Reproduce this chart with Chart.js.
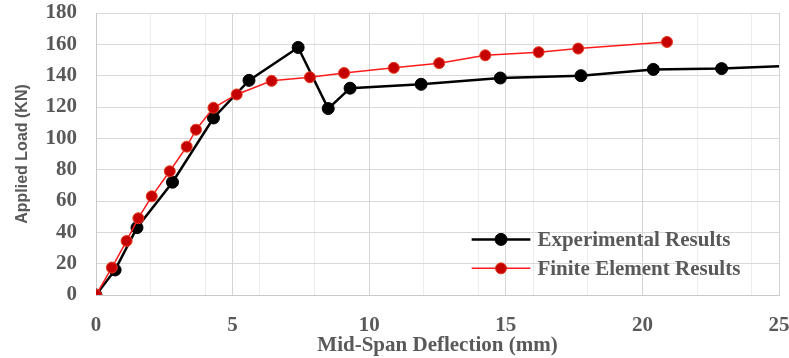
<!DOCTYPE html>
<html>
<head>
<meta charset="utf-8">
<script src="https://cdn.jsdelivr.net/npm/chart.js@4/dist/chart.umd.min.js"></script>
<style>
  html, body { margin: 0; padding: 0; background: #ffffff; }
  #wrap { position: relative; width: 789px; height: 358px; }
</style>
</head>
<body>
<div id="wrap"><canvas id="chart" width="789" height="358"></canvas></div>
<script>
// Load–deflection curves: mid-span deflection (mm) vs applied load (kN)
const expDeflection = [0, 0.7, 1.5, 2.8, 4.3, 5.6, 7.4, 8.5, 9.3, 11.9, 14.8, 17.75, 20.4, 22.9, 25];
const expLoad       = [0, 16, 43, 72, 113, 137, 158, 119, 132, 134.5, 138.5, 140, 144, 144.5, 146];

const feDeflection = [0, 0.58, 1.12, 1.55, 2.04, 2.7, 3.32, 3.66, 4.3, 5.15, 6.43, 7.83, 9.08, 10.9, 12.56, 14.25, 16.2, 17.65, 20.9];
const feLoad       = [0, 17.5, 34.5, 49, 63, 79, 94.7, 105.5, 119.5, 128, 136.7, 139, 141.7, 145, 148, 153, 155, 157.3, 161.5];

const seriesLabels = ['Experimental Results', 'Finite Element Results'];
const xTickLabels = [0, 5, 10, 15, 20, 25];
const yTickLabels = [0, 20, 40, 60, 80, 100, 120, 140, 160, 180];

const toPoints = (xs, ys) => xs.map((x, i) => ({ x: x, y: ys[i] }));

const textGray = '#595959';
const serifBold = { family: '"Liberation Serif", "Times New Roman", serif', weight: 'bold', size: 21 };

// Marker size used for each series (also used by the legend)
const markerSize = [6, 5.5];

// Legend drawn inside the plot area, lower right
const insideLegend = {
  id: 'insideLegend',
  afterDatasetsDraw(chart) {
    const { ctx } = chart;
    const xs = chart.scales.x, ys = chart.scales.y;
    const lineX0 = xs.getPixelForValue(13.75);
    const lineX1 = xs.getPixelForValue(15.9);
    const textX = lineX1 + 7;
    const rows = [ys.getPixelForValue(35.5), ys.getPixelForValue(17)];
    ctx.save();
    chart.data.datasets.forEach((ds, i) => {
      const y = rows[i];
      ctx.strokeStyle = ds.borderColor;
      ctx.lineWidth = ds.borderWidth;
      ctx.beginPath();
      ctx.moveTo(lineX0, y);
      ctx.lineTo(lineX1, y);
      ctx.stroke();
      const cx = (lineX0 + lineX1) / 2;
      ctx.beginPath();
      ctx.arc(cx, y, markerSize[i], 0, Math.PI * 2);
      ctx.fillStyle = ds.pointBackgroundColor;
      ctx.fill();
      ctx.lineWidth = ds.pointBorderWidth;
      ctx.strokeStyle = ds.pointBorderColor;
      ctx.stroke();
      ctx.font = 'bold 21px "Liberation Serif", "Times New Roman", serif';
      ctx.fillStyle = textGray;
      ctx.textBaseline = 'middle';
      ctx.textAlign = 'left';
      ctx.fillText(ds.label, textX, y + 1);
    });
    ctx.restore();
  }
};

new Chart(document.getElementById('chart'), {
  type: 'scatter',
  data: {
    datasets: [
      {
        label: seriesLabels[0],
        data: toPoints(expDeflection, expLoad),
        showLine: true,
        borderColor: '#000000',
        borderWidth: 2.5,
        backgroundColor: '#000000',
        pointBackgroundColor: '#000000',
        pointBorderColor: '#000000',
        pointBorderWidth: 1,
        pointRadius: expDeflection.map((x, i) => i === expDeflection.length - 1 ? 0 : markerSize[0]),
        order: 2
      },
      {
        label: seriesLabels[1],
        data: toPoints(feDeflection, feLoad),
        showLine: true,
        borderColor: '#ff1a1a',
        borderWidth: 1.5,
        backgroundColor: '#c00000',
        pointBackgroundColor: '#c40000',
        pointBorderColor: '#e83a1a',
        pointBorderWidth: 1,
        pointRadius: markerSize[1],
        order: 1
      }
    ]
  },
  options: {
    responsive: false,
    animation: false,
    devicePixelRatio: 1,
    layout: { padding: { left: 0, right: 10, top: 13, bottom: 0 } },
    plugins: {
      legend: { display: false },
      tooltip: { enabled: false }
    },
    scales: {
      x: {
        type: 'linear',
        min: 0,
        max: 25,
        afterFit(scale) {
          scale.height = 63;
          scale.paddingLeft = 0;
          scale.paddingRight = 0;
        },
        afterBuildTicks(scale) {
          const t = [];
          for (let v = 0; v <= 25; v++) t.push({ value: v });
          scale.ticks = t;
        },
        ticks: {
          autoSkip: false,
          maxRotation: 0,
          padding: 18,
          color: textGray,
          font: serifBold,
          callback: (v) => xTickLabels.includes(v) ? String(v) : ''
        },
        grid: {
          drawTicks: false,
          lineWidth: 1,
          color: (c) => {
            const v = c.tick ? c.tick.value : 0;
            if (v % 5 === 0) return '#d4d4d4';
            if (v % 2 === 0) return '#ececec';
            return 'rgba(0,0,0,0)';
          }
        },
        border: { display: true, color: '#c8c8c8', width: 1 },
        title: {
          display: true,
          text: 'Mid-Span Deflection (mm)',
          color: textGray,
          font: { family: '"Liberation Serif", "Times New Roman", serif', weight: 'bold', size: 21 },
          padding: { top: 0, bottom: 0 }
        }
      },
      y: {
        type: 'linear',
        min: 0,
        max: 180,
        afterFit(scale) {
          scale.width = 96;
          scale.paddingTop = 0;
          scale.paddingBottom = 0;
        },
        afterBuildTicks(scale) {
          scale.ticks = yTickLabels.map(v => ({ value: v }));
        },
        ticks: {
          padding: 19,
          color: textGray,
          font: serifBold
        },
        grid: {
          drawTicks: false,
          color: '#d9d9d9',
          lineWidth: 1
        },
        border: { display: true, color: '#c8c8c8', width: 1 },
        title: {
          display: true,
          text: 'Applied Load (KN)',
          color: textGray,
          font: { family: '"Liberation Sans", Arial, sans-serif', weight: 'bold', size: 16 },
          padding: { top: 13, bottom: 0 }
        }
      }
    }
  },
  plugins: [insideLegend]
});
</script>
</body>
</html>
